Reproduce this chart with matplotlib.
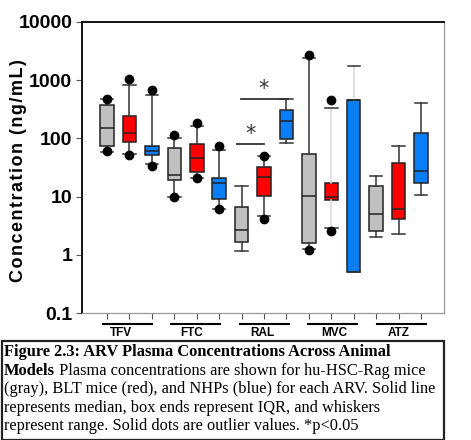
import matplotlib
matplotlib.use('Agg')
import matplotlib.pyplot as plt
from matplotlib.patches import Rectangle
import matplotlib.transforms as mtransforms

drugs = ['TFV', 'FTC', 'RAL', 'MVC', 'ATZ']
colors = ['#c0c0c0', '#ff0000', '#0a7ff5']

# hu-HSC-Rag mice (gray)
gray_lo = [59, 10, 1.17, 1.24, 2.0]
gray_q1 = [75, 19.3, 1.64, 1.6, 2.57]
gray_med = [151, 23.8, 2.67, 10.1, 4.97]
gray_q3 = [371, 68, 6.6, 53, 15]
gray_hi = [470, 102, 15, 2400, 23]
gray_out = [[480, 60], [113, 10], [], [2710, 1.22], []]

# BLT mice (red)
red_lo = [55, 20.6, 4.6, 2.9, 2.25]
red_q1 = [87, 26.8, 10.4, 8.6, 4.17]
red_med = [122, 46, 22, 9.7, 6.1]
red_q3 = [240, 79, 32, 17.3, 38]
red_hi = [837, 161, 49, 337, 75]
red_out = [[1050, 52], [186, 20.6], [49.5, 4.2], [452, 2.57], []]

# NHPs (blue)
blue_lo = [36, 6.2, 82, 0.5, 10.5]
blue_q1 = [51, 9.0, 96, 0.5, 17.1]
blue_med = [60, 17.1, 199, 457, 27.5]
blue_q3 = [75, 20.6, 308, 457, 125]
blue_hi = [557, 64, 475, 1775, 406]
blue_out = [[680, 33], [75, 6.2], [], [], []]

series = [
    (gray_lo, gray_q1, gray_med, gray_q3, gray_hi, gray_out),
    (red_lo, red_q1, red_med, red_q3, red_hi, red_out),
    (blue_lo, blue_q1, blue_med, blue_q3, blue_hi, blue_out),
]

# significance brackets: (x start, x end, y, star x)
sig = [(6.8, 8.0, 80, 7.4), (6.98, 9.05, 475, 7.98)]

# group label positions under the axis
label_x = [1.6, 4.75, 7.94, 11.13, 14.0]

fig = plt.figure(figsize=(4.71, 4.4), dpi=100)
ax = fig.add_axes([0.174, 0.2886, 0.769, 0.6614])

stats, pos, cols = [], [], []
for s, (lo, q1, med, q3, hi, out) in enumerate(series):
    for g in range(len(drugs)):
        stats.append(dict(whislo=lo[g], q1=q1[g], med=med[g], q3=q3[g],
                          whishi=hi[g], fliers=out[g]))
        pos.append(1 + 3 * g + s)
        cols.append(colors[s])

art = ax.bxp(stats, positions=pos, widths=0.6, capwidths=0.55,
             patch_artist=True, manage_ticks=False,
             boxprops=dict(edgecolor='#222222', linewidth=1.1),
             medianprops=dict(color='#222222', linewidth=1.1),
             whiskerprops=dict(color='#333333', linewidth=1.1),
             capprops=dict(color='#333333', linewidth=1.1),
             flierprops=dict(marker='o', markerfacecolor='black',
                             markeredgecolor='black', markersize=6))
for patch, c in zip(art['boxes'], cols):
    patch.set_facecolor(c)
# faint whiskers on MVC red and blue
for i, p in enumerate(pos):
    if p in (11, 12):
        for w in art['whiskers'][2 * i:2 * i + 2]:
            w.set_color('#d8d8d8')

for x0, x1, y, xs in sig:
    ax.plot([x0, x1], [y, y], color='#333333', lw=1.3)
    ax.text(xs, y * 1.02, '*', ha='center', va='bottom', fontsize=15,
            color='#333333')

ax.set_yscale('log')
ax.set_ylim(0.1, 10000)
ax.set_xlim(-0.12, 16.03)
ax.set_yticks([0.1, 1, 10, 100, 1000, 10000])
ax.set_yticklabels(['0.1', '1', '10', '100', '1000', '10000'],
                   fontfamily='Liberation Sans', fontweight='bold', fontsize=14)
ax.minorticks_off()
ax.set_xticks(range(1, 16))
ax.set_xticklabels([])
ax.tick_params(axis='x', length=4, color='#555555')
ax.tick_params(axis='y', length=4, color='#555555', pad=3)
# slightly letter-spaced label (hair spaces between characters)
ylab = '\u200a'.join('Concentration (ng/mL)')
ax.set_ylabel(ylab, family=['Liberation Sans', 'DejaVu Sans'],
              fontweight='bold', fontsize=13)
ax.yaxis.set_label_coords(-0.152, 0.49)

for side in ['top', 'left']:
    ax.spines[side].set_color('black')
    ax.spines[side].set_linewidth(1.3)
for side in ['right', 'bottom']:
    ax.spines[side].set_color('#999999')
    ax.spines[side].set_linewidth(0.9)

trans = mtransforms.blended_transform_factory(ax.transData, ax.transAxes)
for g, d in enumerate(drugs):
    c = 2 + 3 * g
    ax.plot([c - 1.18 + 0.05 * g, c + 1.0 + 0.05 * g], [-0.038, -0.038],
            transform=trans, color='black', lw=1.5, clip_on=False)
    ax.text(label_x[g], -0.068, d, transform=trans, ha='center', va='center',
            fontsize=8.5, fontweight='bold', fontfamily='Liberation Sans')

# caption box
fig.patches.append(Rectangle((2 / 471, 0), 442 / 471, 99 / 440,
                             transform=fig.transFigure, fill=False,
                             edgecolor='#222222', lw=1.6))
cap_font = dict(fontfamily='Liberation Serif', fontsize=11.8, va='top', ha='left')
lx = 4 / 471
ys = [(440 - 344) / 440, (440 - 362.5) / 440, (440 - 381) / 440,
      (440 - 399.5) / 440, (440 - 418) / 440]
fig.text(lx, ys[0], 'Figure 2.3: ARV Plasma Concentrations Across Animal',
         fontweight='bold', **cap_font)
t = fig.text(lx, ys[1], 'Models', fontweight='bold', **cap_font)
r = fig.canvas.get_renderer()
bb = t.get_window_extent(renderer=r)
fig.text(bb.x1 / fig.bbox.width, ys[1],
         ' Plasma concentrations are shown for hu-HSC-Rag mice', **cap_font)
fig.text(lx, ys[2], '(gray), BLT mice (red), and NHPs (blue) for each ARV. Solid line',
         **cap_font)
fig.text(lx, ys[3], 'represents median, box ends represent IQR, and whiskers',
         **cap_font)
fig.text(lx, ys[4], 'represent range. Solid dots are outlier values. *p<0.05',
         **cap_font)

fig.savefig('out.png', dpi=100)
